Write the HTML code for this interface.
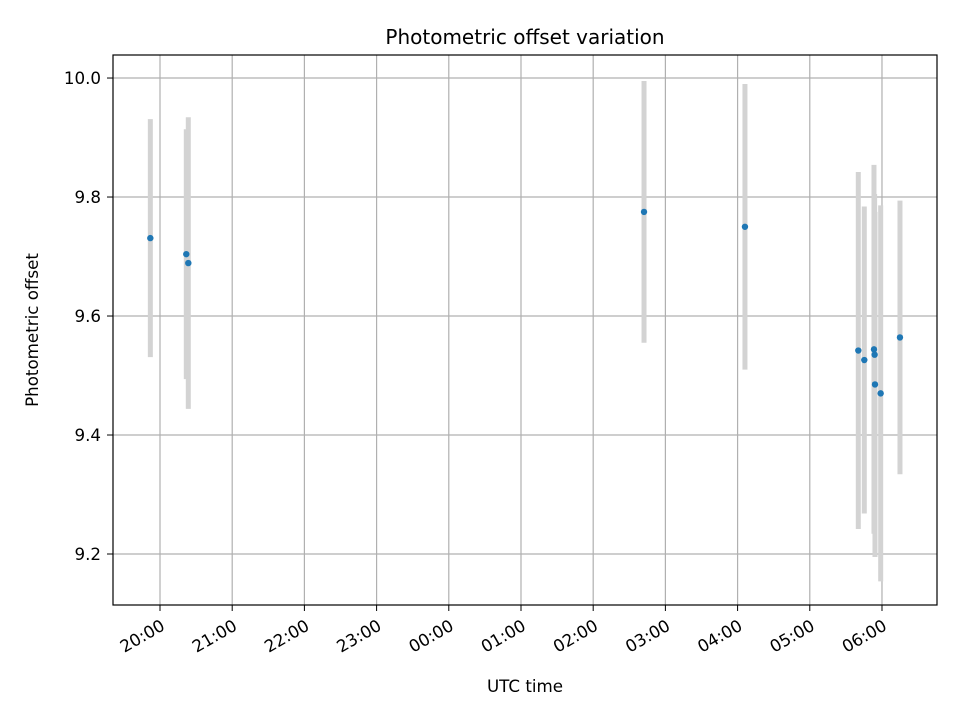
<!DOCTYPE html>
<html><head><meta charset="utf-8"><style>
body{margin:0;background:#fff}
svg{font-family:"DejaVu Sans","Liberation Sans",sans-serif}
</style></head><body>
<svg id="chart" width="960" height="720" xmlns="http://www.w3.org/2000/svg">
<rect width="960" height="720" fill="#fff"/>
<g id="grid"></g>
<g id="bars"></g>
<g id="pts"></g>
<g id="ticks"></g>
<rect x="113" y="55" width="824" height="550" fill="none" stroke="#000" stroke-width="1.2"/>
<text x="525" y="44" text-anchor="middle" font-size="20">Photometric offset variation</text>
<text x="525" y="692" text-anchor="middle" font-size="16.7">UTC time</text>
<text transform="translate(38,330) rotate(-90)" text-anchor="middle" font-size="16.7">Photometric offset</text>
</svg>
<script>
// times: hours after 20:00 UTC
const times = [-0.134, 0.364, 0.392, 6.704, 8.102, 9.672, 9.755, 9.889, 9.898, 9.903, 9.982, 10.249];
const offsets = [9.731, 9.704, 9.689, 9.775, 9.750, 9.542, 9.526, 9.544, 9.535, 9.485, 9.470, 9.564];
const errors = [0.20, 0.21, 0.245, 0.22, 0.24, 0.30, 0.258, 0.31, 0.27, 0.29, 0.316, 0.23];
const yTicks = [9.2, 9.4, 9.6, 9.8, 10.0];
const yTickLabels = ["9.2", "9.4", "9.6", "9.8", "10.0"];
const xTicks = [0,1,2,3,4,5,6,7,8,9,10];
const xTickLabels = ["20:00","21:00","22:00","23:00","00:00","01:00","02:00","03:00","04:00","05:00","06:00"];

const L=113,R=937,T=55,B=605;
const xMin=-0.651,xMax=10.762,yMin=9.1143,yMax=10.0387;
const xs=v=>L+(v-xMin)/(xMax-xMin)*(R-L);
const ys=v=>B-(v-yMin)/(yMax-yMin)*(B-T);
const NS="http://www.w3.org/2000/svg";
function mk(tag,attrs,parent){const e=document.createElementNS(NS,tag);for(const k in attrs)e.setAttribute(k,attrs[k]);parent.appendChild(e);return e;}
const grid=document.getElementById('grid'),ticks=document.getElementById('ticks'),bars=document.getElementById('bars'),pts=document.getElementById('pts');
xTicks.forEach((t,i)=>{
  const x=xs(t);
  const g=mk('line',{x1:x,x2:x,y1:T,y2:B,stroke:'#b0b0b0','stroke-width':1.2},grid);
  
  
  const tk=mk('line',{x1:x,x2:x,y1:B,y2:B+6,stroke:'#000','stroke-width':1},ticks);
  
  
  const ax=x+6, ay=B+24;
  const lb=mk('text',{x:ax,y:ay,'font-size':16.7,'text-anchor':'end',transform:`rotate(-30 ${ax} ${ay})`},ticks);
  lb.textContent=xTickLabels[i];
  
  
});
yTicks.forEach((t,i)=>{
  const y=ys(t);
  const g=mk('line',{x1:L,x2:R,y1:y,y2:y,stroke:'#b0b0b0','stroke-width':1.2},grid);
  
  
  const tk=mk('line',{x1:L-6,x2:L,y1:y,y2:y,stroke:'#000','stroke-width':1},ticks);
  
  
  const lb=mk('text',{x:L-12,y:y+6,'font-size':16.7,'text-anchor':'end'},ticks);
  lb.textContent=yTickLabels[i];
  
  
});
times.forEach((t,i)=>{
  const x=xs(t);
  const b=mk('line',{x1:x,x2:x,y1:ys(offsets[i]+errors[i]),y2:ys(offsets[i]-errors[i]),stroke:'#d3d3d3','stroke-width':5},bars);
  
  
});
times.forEach((t,i)=>{
  const c=mk('circle',{cx:xs(t),cy:ys(offsets[i]),r:3.2,fill:'#1f77b4'},pts);
  
  
});
</script>
</body></html>
